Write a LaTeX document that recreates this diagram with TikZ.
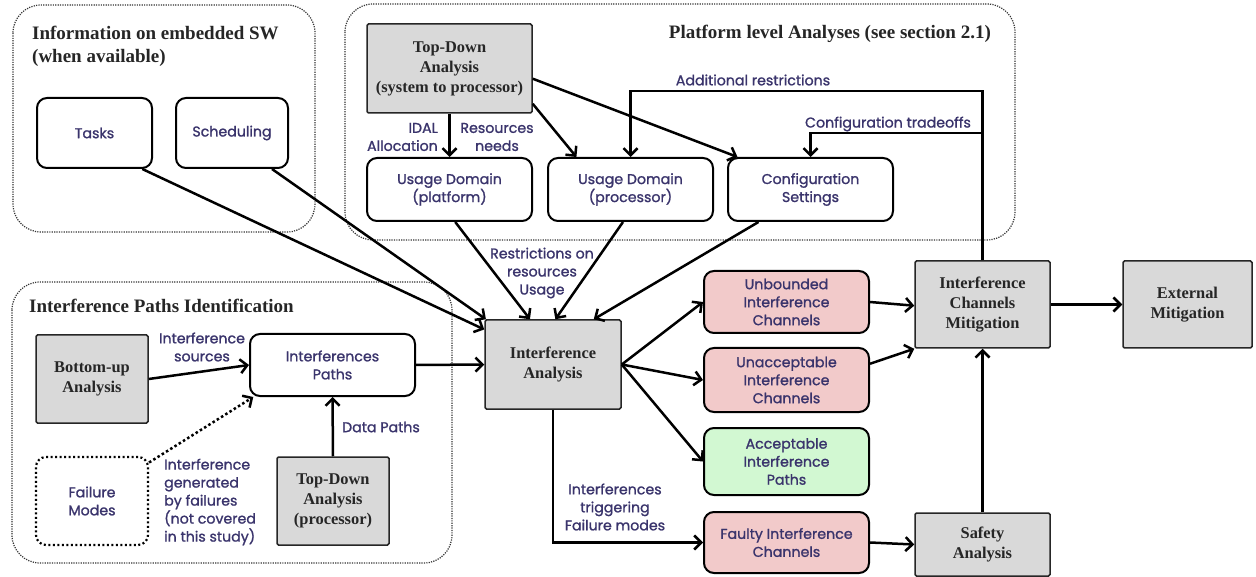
\documentclass[tikz,border=0pt]{standalone}
\usepackage{fontspec}
\setmainfont{Liberation Serif}
\newfontfamily\gothic[FakeBold=1.2]{Poppins}
\usetikzlibrary{arrows.meta,calc}
\definecolor{txtblue}{RGB}{58,52,108}
\definecolor{boxgray}{RGB}{217,217,217}
\definecolor{boxpink}{RGB}{242,202,202}
\definecolor{boxgreen}{RGB}{210,248,210}
\tikzset{
  graybox/.style={draw=black!85, line width=1.5pt, fill=boxgray, font=\fontsize{16.4}{20}\selectfont\bfseries, text=black!85, align=center, inner sep=0pt, rounded corners=1.5pt},
  whitebox/.style={draw, line width=2pt, rounded corners=10pt, fill=white, font=\gothic\fontsize{14.2}{18}\selectfont, text=txtblue, align=center, inner sep=0pt},
  pinkbox/.style={whitebox, fill=boxpink},
  greenbox/.style={whitebox, fill=boxgreen},
  fmbox/.style={whitebox, dash pattern=on 2pt off 2.5pt, line width=2.2pt},
  lbl/.style={font=\gothic\fontsize{14.2}{18}\selectfont, text=txtblue, inner sep=0pt},
  grp/.style={draw=black!80, line width=1.2pt, dash pattern=on 1.2pt off 1.2pt, rounded corners=28pt},
  grptitle/.style={font=\fontsize{19}{23}\selectfont\bfseries, text=black!85, inner sep=0pt},
  arr/.style={line width=2.5pt, -{Straight Barb[length=7pt,width=14pt]}},
  darr/.style={arr, dash pattern=on 2.5pt off 2.5pt}
}
\begin{document}
\begin{tikzpicture}[x=1pt,y=-1pt]
\fill[white] (0,0) rectangle (1256,577);
\useasboundingbox (0,0) rectangle (1256,577);
% groups
\draw[grp] (13,5) rectangle (315,232);
\draw[grp] (345,4) rectangle (1015,240);
\draw[grp] (12,282) rectangle (452,563);
\node[grptitle, anchor=north west, align=left] (t1) at (32,26) {Information on embedded SW\\(when available)};
\node[grptitle, anchor=base east] (t2) at (991,39) {Platform level Analyses (see section 2.1)};
\node[grptitle, anchor=base west] (t3) at (29,313) {Interference Paths Identification};
% nodes
\node[whitebox, minimum width=115pt, minimum height=70pt] (tasks) at (94.5,133) {Tasks};
\node[whitebox, minimum width=112pt, minimum height=70pt] (sched) at (232,133) {Scheduling};
\node[graybox, minimum width=165pt, minimum height=89pt] (tda) at (449.5,68.5) {Top-Down\\Analysis\\(system to processor)};
\node[whitebox, minimum width=165pt, minimum height=63pt] (udp) at (449.5,189.5) {Usage Domain\\(platform)};
\node[whitebox, minimum width=165pt, minimum height=63pt] (udc) at (630.5,189.5) {Usage Domain\\(processor)};
\node[whitebox, minimum width=165pt, minimum height=63pt] (conf) at (810.5,189.5) {Configuration\\Settings};
\node[graybox, minimum width=136pt, minimum height=89pt] (ia) at (553,364.5) {Interference\\Analysis};
\node[whitebox, minimum width=165pt, minimum height=62pt] (ip) at (332.5,365) {Interferences\\Paths};
\node[graybox, minimum width=112pt, minimum height=88pt] (bu) at (92,379) {Bottom-up\\Analysis};
\node[fmbox, minimum width=112pt, minimum height=88pt] (fm) at (92,501) {Failure\\Modes};
\node[graybox, minimum width=112pt, minimum height=88pt] (tdp) at (333,501) {Top-Down\\Analysis\\(processor)};
\node[pinkbox, minimum width=165pt, minimum height=62pt] (unb) at (786.5,302) {Unbounded\\Interference\\Channels};
\node[pinkbox, minimum width=165pt, minimum height=64pt] (unacc) at (786.5,380) {Unacceptable\\Interference\\Channels};
\node[greenbox, minimum width=165pt, minimum height=67pt] (acc) at (786.5,461.5) {Acceptable\\Interference\\Paths};
\node[pinkbox, minimum width=165pt, minimum height=61pt] (faulty) at (786.5,542.5) {Faulty Interference\\Channels};
\node[graybox, minimum width=135pt, minimum height=87pt] (icm) at (982.5,304.5) {Interference\\Channels\\Mitigation};
\node[graybox, minimum width=129pt, minimum height=87pt] (ext) at (1187.5,304.5) {External\\Mitigation};
\node[graybox, minimum width=135pt, minimum height=63pt] (safety) at (982.5,544.5) {Safety\\Analysis};
% labels
\node[lbl, align=right, anchor=east] (lidal) at (438,137) {IDAL\\Allocation};
\node[lbl, align=center] (lres) at (497,137) {Resources\\needs};
\node[lbl] (ladd) at (753,80) {Additional restrictions};
\node[lbl] (lconf) at (888,124) {Configuration tradeoffs};
\node[lbl, align=center] (lrestr) at (542,273) {Restrictions on\\resources\\Usage};
\node[lbl, align=center] (lsrc) at (202,347) {Interference\\sources};
\node[lbl, align=left, anchor=west] (lgen) at (164,502) {Interference\\generated\\by failures\\(not covered\\in this study)};
\node[lbl] (ldata) at (381,427) {Data Paths};
\node[lbl, align=center] (ltrig) at (615,507) {Interferences\\triggering\\Failure modes};
% connectors
\coordinate (ar) at (982.5,91);
\coordinate (ct) at (982.5,133);
\draw[arr] (tasks.-37.6) -- (ia.153);
\draw[arr] (sched.-42.6) -- (ia.146);
\draw[arr] (udp.-80) -- (ia.117.3);
\draw[arr] (udc.-103.4) -- (ia.87.4);
\draw[arr] (conf.-148) -- (ia.48);
\draw[arr] (tda.south) -- (udp.north);
\draw[arr] (tda.-23.9) -- (udc.149);
\draw[arr] (tda.-7.9) -- (conf.156.5);
\draw[arr] (ip.east) -- (ia.west);
\draw[arr] (bu.east) -- (ip.west);
\draw[darr] (fm.34.9) -- (ip.202);
\draw[arr] (tdp.north) -- (ip.south);
\draw[arr] (ia.east) -- (unb.west);
\draw[arr] (ia.east) -- (unacc.west);
\draw[arr] (ia.east) -- (acc.west);
\draw[arr] (ia.south) |- (faulty.west);
\draw[arr] (unb.east) -- (icm.181);
\draw[arr] (unacc.11) -- (icm.south west);
\draw[arr] (icm.east) -- (ext.west);
\draw[arr] (faulty.east) -- (safety.west);
\draw[arr] (safety.north) -- (icm.south);
\draw[arr] (icm.north) -- (ar) -| (udc.north);
\draw[arr] (ct) -| (conf.north);
\end{tikzpicture}
\end{document}
